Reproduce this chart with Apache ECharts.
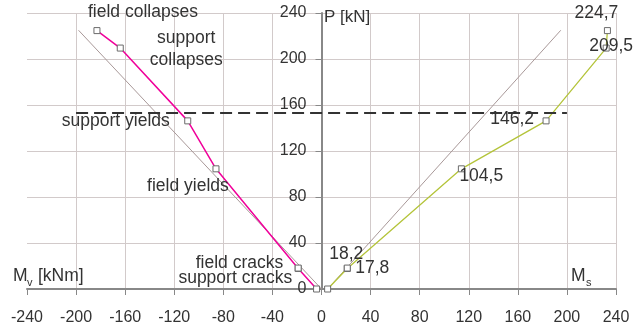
<!DOCTYPE html>
<html>
<head>
<meta charset="utf-8">
<script src="https://cdn.jsdelivr.net/npm/echarts@6/dist/echarts.min.js"></script>
<style>
html,body{margin:0;padding:0;background:#fff;}
#c{width:643px;height:329px;}
</style>
</head>
<body>
<div id="c"></div>
<script>
// ---- data ----
const leftM = [-4, -19, -19, -86, -109, -164, -183];
const leftP = [0, 17.8, 18.2, 104.5, 146.2, 209.5, 224.7];
const leftNames = ['', 'support cracks', 'field cracks', 'field yields', 'support yields', 'support\ncollapses', 'field collapses'];

const rightM = [5, 21, 21, 114, 183, 232, 233];
const rightP = [0, 17.8, 18.2, 104.5, 146.2, 209.5, 224.7];

const refLeftM = [0, -198];
const refLeftP = [0, 225];
const refRightM = [5, 195];
const refRightP = [0, 225];

const limitM = [-200, 200];
const limitP = [153, 153];

const xMin = -240, xMax = 240, xStep = 40;
const yMin = 0, yMax = 240, yStep = 40;

// ---- label placement (styles only) ----
const leftLabelStyle = [
  {show: false},
  {align: 'right', offset: [-6, 10]},
  {align: 'right', offset: [-15, -5]},
  {align: 'center', offset: [-28, 17]},
  {align: 'right', offset: [-18, 0]},
  {align: 'center', offset: [66, 1], lineHeight: 22},
  {align: 'center', offset: [46, -18]}
];
const rightLabelStyle = [
  {show: false},
  {align: 'left', offset: [8, 0]},
  {align: 'center', offset: [-1, -14]},
  {align: 'left', offset: [-2, 7]},
  {align: 'right', offset: [-12, -2]},
  {align: 'center', offset: [5, -2]},
  {align: 'center', offset: [-11, -17]}
];

const textColor = '#333';
const fontFam = '"Liberation Sans", Arial, sans-serif';
const baseLabel = {show: true, position: 'inside', verticalAlign: 'middle', color: textColor, fontSize: 17.5, fontFamily: fontFam};

const fmt = v => String(v).replace('.', ',');

const leftData = leftM.map((m, i) => ({
  value: [m, leftP[i]],
  label: Object.assign({}, baseLabel, {formatter: leftNames[i]}, leftLabelStyle[i])
}));
const rightData = rightM.map((m, i) => ({
  value: [m, rightP[i]],
  label: Object.assign({}, baseLabel, {formatter: fmt(rightP[i])}, rightLabelStyle[i])
}));

const markerStyle = {color: '#fff', borderColor: '#6b6b6b', borderWidth: 1};

const gridLeft = 27, gridRight = 27, W = 643;
const plotW = W - gridLeft - gridRight;
// y axis sits where M = 0
const yAxisShift = -plotW * (0 - xMin) / (xMax - xMin);

const chart = echarts.init(document.getElementById('c'), null, {renderer: 'canvas'});
const txt = (t, x, y, size) => ({type: 'text', left: x, top: y, z: 10,
  style: {text: t, fill: textColor, font: size + 'px ' + fontFam}});
chart.setOption({
  animation: false,
  backgroundColor: '#fff',
  grid: {left: gridLeft, right: gridRight, top: 13, bottom: 40, containLabel: false, outerBoundsMode: 'none'},
  xAxis: {
    type: 'value', min: xMin, max: xMax, interval: xStep,
    axisLine: {show: true, onZero: true, lineStyle: {color: '#888', width: 2}},
    axisTick: {show: true, length: 6, lineStyle: {color: '#888', width: 1}},
    axisLabel: {color: textColor, fontSize: 16, fontFamily: fontFam, margin: 21},
    splitLine: {show: true, showMinLine: false, lineStyle: {color: '#d2caca', width: 1}}
  },
  yAxis: {
    type: 'value', min: yMin, max: yMax, interval: yStep,
    position: 'left', offset: yAxisShift,
    axisLine: {show: true, onZero: false, lineStyle: {color: '#888', width: 2}},
    axisTick: {show: true, length: 6, lineStyle: {color: '#888', width: 1}},
    axisLabel: {color: textColor, fontSize: 16, fontFamily: fontFam, margin: 15},
    splitLine: {show: true, lineStyle: {color: '#d2caca', width: 1}}
  },
  graphic: [
    txt('P [kN]', 324, 9, 17),
    txt('M', 13, 267, 17.5),
    txt('v', 27, 277, 11),
    txt('[kNm]', 38, 267, 17.5),
    txt('M', 571, 267, 17.5),
    txt('s', 586, 277, 11)
  ],
  series: [
    {
      type: 'line', data: refLeftM.map((m, i) => [m, refLeftP[i]]),
      symbol: 'none', lineStyle: {color: '#a89898', width: 1}, z: 2, silent: true
    },
    {
      type: 'line', data: refRightM.map((m, i) => [m, refRightP[i]]),
      symbol: 'none', lineStyle: {color: '#a89898', width: 1}, z: 2, silent: true
    },
    {
      type: 'line', data: leftData,
      symbol: 'rect', symbolSize: 6, showAllSymbol: true,
      lineStyle: {color: '#f0009a', width: 1.5}, itemStyle: markerStyle, z: 3
    },
    {
      type: 'line', data: rightData,
      symbol: 'rect', symbolSize: 6, showAllSymbol: true,
      lineStyle: {color: '#b4c43a', width: 1.3}, itemStyle: markerStyle, z: 3
    },
    {
      type: 'line', data: limitM.map((m, i) => [m, limitP[i]]),
      symbol: 'none', lineStyle: {color: '#333', width: 2, type: [12, 6]}, z: 4, silent: true
    }
  ]
});
</script>
</body>
</html>
